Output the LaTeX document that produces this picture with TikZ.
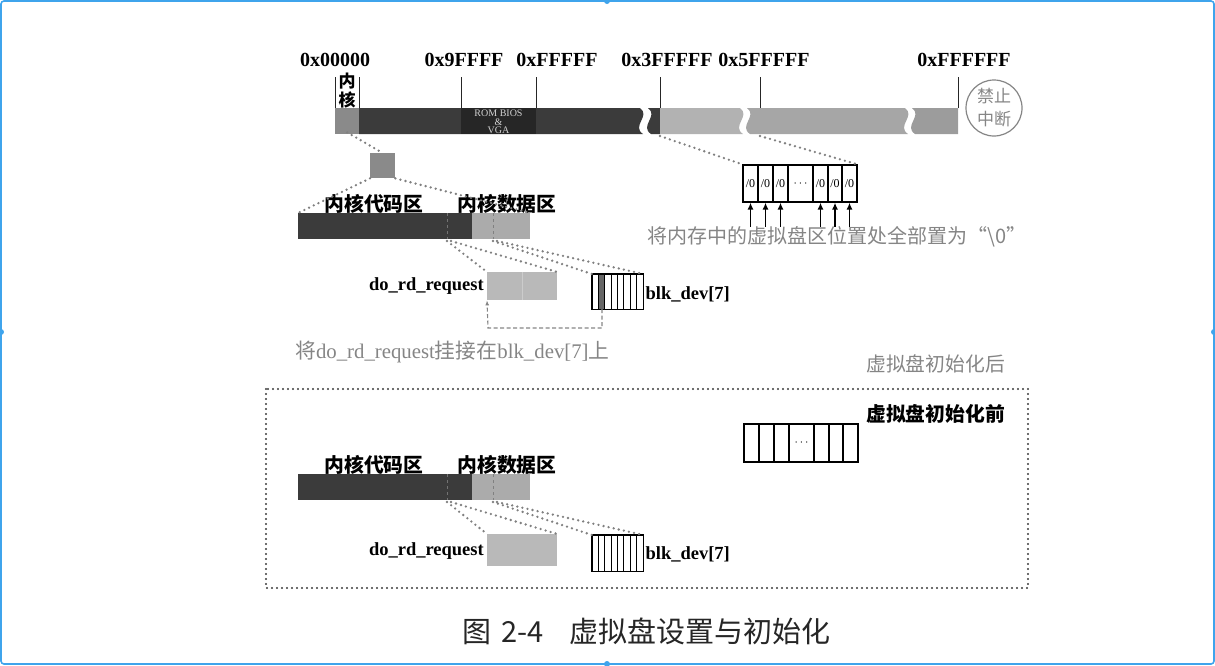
\documentclass[tikz,border=0pt]{standalone}
\usepackage{fontspec}
\setmainfont{Liberation Serif}
\newfontfamily\cjk{Noto Sans CJK SC}
\usetikzlibrary{arrows.meta,calc}
\definecolor{darkbar}{HTML}{3B3B3B}
\definecolor{rombar}{HTML}{262626}
\definecolor{kerngray}{HTML}{8A8A8A}
\definecolor{lightA}{HTML}{B2B2B2}
\definecolor{lightB}{HTML}{A6A6A6}
\definecolor{lightC}{HTML}{9C9C9C}
\definecolor{datagray}{HTML}{ABABAB}
\definecolor{reqgray}{HTML}{B9B9B9}
\definecolor{txtgray}{HTML}{858585}
\definecolor{dotgray}{HTML}{808080}
\definecolor{framedots}{HTML}{3A3A3A}
\definecolor{shotblue}{HTML}{3FA4EC}
\newcommand{\zr}{/0}
\begin{document}
\begin{tikzpicture}[x=1pt,y=-1pt,
  hexl/.style={font=\fontsize{20}{22}\selectfont\bfseries, inner sep=0},
  cjkb/.style={font=\cjk\fontsize{19.8}{21}\selectfont\bfseries, inner sep=0},
  cjkg/.style={font=\cjk\fontsize{19.8}{21}\selectfont, text=txtgray, inner sep=0},
  lbl/.style={font=\fontsize{18.5}{20}\selectfont\bfseries, inner sep=0},
  blockbox/.style={inner sep=0, draw=none, anchor=north west},
  cell/.style={draw, line width=1.2pt, inner sep=0, minimum height=37pt, font=\fontsize{12}{14}\selectfont},
  dots/.style={draw=dotgray, line width=2.6pt, dash pattern=on 0pt off 5.2pt, line cap=round},
  tick/.style={draw=black!85, line width=0.9pt},
  uparrow/.style={draw, line width=1.8pt, -{Latex[length=7pt,width=6pt]}},
  linkline/.style={draw=txtgray, line width=1.1pt, dash pattern=on 4pt off 2.5pt}
]
\useasboundingbox (0,0) rectangle (1215,665);
% screenshot frame
\draw[shotblue, line width=1.6pt, rounded corners=3pt] (1,1) rectangle (1214,664);
\foreach \p in {(607,1),(1,332),(1214,332),(607,664)} \fill[shotblue] \p circle (3pt);

% ---------- memory bar ----------
\node[hexl] (h0) at (335,60) {0x00000};
\node[hexl] (h1) at (464,60) {0x9FFFF};
\node[hexl] (h2) at (557,60) {0xFFFFF};
\node[hexl] (h3) at (667,60) {0x3FFFFF};
\node[hexl] (h4) at (764,60) {0x5FFFFF};
\node[hexl] (h5) at (964,60) {0xFFFFFF};
\node[font=\cjk\fontsize{17}{19}\selectfont\bfseries, inner sep=0] (nei) at (347,81) {内};
\node[font=\cjk\fontsize{17}{19}\selectfont\bfseries, inner sep=0] (he) at (347,100) {核};

\node[blockbox, fill=kerngray, minimum width=24pt, minimum height=26pt] (kblk) at (335,108) {};
\fill[darkbar] (359,108) -- (640,108) .. controls (651,116) and (631,126) .. (643,134) -- (359,134) -- cycle;
\fill[darkbar] (648,108) .. controls (659,116) and (639,126) .. (651,134) -- (660,134) -- (660,108) -- cycle;
\node[blockbox, fill=rombar, minimum width=75pt, minimum height=26pt] (rom) at (461,108) {};
\begin{scope}
\clip (461,108) rectangle (536,134);
\node[font=\fontsize{10}{8.5}\selectfont, text=black!18, align=center, inner sep=0] (romtxt) at (498.5,122) {ROM BIOS\\\&\\VGA};
\end{scope}
\fill[lightA] (660,108) -- (740,108) .. controls (751,116) and (731,126) .. (743,134) -- (660,134) -- cycle;
\fill[lightB] (747,108) .. controls (758,116) and (738,126) .. (750,134) -- (908,134) .. controls (896,126) and (916,116) .. (905,108) -- cycle;
\fill[lightC] (912,108) .. controls (923,116) and (903,126) .. (915,134) -- (958,134) -- (958,108) -- cycle;
\coordinate (m3) at (660,136);
\coordinate (m5) at (760,136);

\draw[tick] (335,77) -- (335,108);
\draw[tick] (359,77) -- (359,108);
\draw[tick] (461,77) -- (461,108);
\draw[tick] (536,77) -- (536,108);
\draw[tick] (660,77) -- (660,108);
\draw[tick] (760,77) -- (760,108);
\draw[tick] (958,77) -- (958,108);

\node[circle, draw=txtgray, line width=1.2pt, minimum size=56pt, inner sep=0] (cli) at (994,108) {};
\node[font=\cjk\fontsize{17}{23}\selectfont, text=txtgray, align=center, inner sep=0] (clitxt) at (cli.center) {禁止\\中断};

% ---------- kernel zoom ----------
\node[blockbox, fill=kerngray, minimum width=25pt, minimum height=25pt] (ksq) at (370,153) {};
\draw[dots] ([yshift=2pt]kblk.south) -- (ksq.north);

\node[cjkb] (codelbl) at (374,204) {内核代码区};
\node[cjkb] (datalbl) at (507,204) {内核数据区};
\node[blockbox, fill=darkbar, minimum width=174pt, minimum height=26pt] (code) at (298,213) {};
\node[blockbox, fill=datagray, minimum width=58pt, minimum height=26pt] (data) at (472,213) {};
\draw[black!55, line width=0.8pt, dashed] (447,213) -- (447,239);
\draw[black!50, line width=0.8pt, dashed] (493,213) -- (493,239);
\draw[dots] (ksq.south west) -- (code.north west);
\draw[dots] (ksq.south east) -- (data.north east);

\node[blockbox, fill=reqgray, minimum width=70pt, minimum height=28pt] (req) at (487,272) {};
\draw[black!20, line width=0.6pt] (522,272) -- (522,300);
\node[lbl, anchor=east] (reqlbl) at ([xshift=-3pt]req.west) {do\_rd\_request};

\node[blockbox, minimum width=51pt, minimum height=35pt] (blk) at (592,274) {};
\fill[black!60] (598.4,274) rectangle (604.75,309);
\foreach \k in {1,...,7} \draw[line width=0.9pt] ({592+\k*6.375},274) -- ({592+\k*6.375},309);
\draw[line width=1.1pt] (blk.north west) rectangle (blk.south east);
\node[lbl, anchor=west] (blklbl) at ([xshift=2pt,yshift=-3pt]blk.east) {blk\_dev[7]};

\coordinate (c1) at (447,241);
\coordinate (c2) at (451,241);
\coordinate (c3) at (493,241);
\coordinate (c4) at (497,241);
\draw[dots] (c1) -- (req.north west);
\draw[dots] (c2) -- (req.north east);
\draw[dots] (c3) -- (blk.north west);
\draw[dots] (c4) -- (blk.north east);

\coordinate (lk1) at (602,309);
\draw[linkline, -{Latex[length=5pt,width=4pt]}] (lk1) -- (602,328) -- (488,328) -- (req.south west);
\node[anchor=west, inner sep=0, text=txtgray, font=\fontsize{20.8}{22}\selectfont] (linktxt) at (295,352)
  {{\cjk 将}do\_rd\_request{\cjk 挂接在}blk\_dev[7]{\cjk 上}};

% ---------- zeroed array ----------
\node[cell, minimum width=15pt] (u1) at (750.5,183.5) {\zr};
\node[cell, minimum width=15pt] (u2) at (765.5,183.5) {\zr};
\node[cell, minimum width=15pt] (u3) at (780.5,183.5) {\zr};
\node[cell, minimum width=25pt] (u4) at (800.5,183.5) {$\cdots$};
\node[cell, minimum width=15pt] (u5) at (820.5,183.5) {\zr};
\node[cell, minimum width=14pt] (u6) at (835,183.5) {\zr};
\node[cell, minimum width=15pt] (u7) at (849.5,183.5) {\zr};
\draw[dots] (m3) -- (u1.north west);
\draw[dots] (m5) -- (u7.north east);
\foreach \c in {u1,u2,u3,u5,u6,u7} {
  \coordinate (a\c) at ($(\c.south)+(0,24)$);
  \draw[uparrow] (a\c) -- (\c.south);
}
\node[cjkg, anchor=west, font=\cjk\fontsize{20}{22}\selectfont] (zerotxt) at (647,237) {将内存中的虚拟盘区位置处全部置为“\textbackslash 0”};

% ---------- before-init panel ----------
\node[cjkg, anchor=east] (aftertxt) at (1005,364) {虚拟盘初始化后};
\draw[draw=framedots, line width=2.4pt, dash pattern=on 0pt off 5pt, line cap=round] (266,389) rectangle (1028,588);
\node[cjkb, anchor=east] (beforetxt) at (1005,414) {虚拟盘初始化前};

\node[cell, minimum width=15pt, minimum height=38pt] (e1) at (751.5,443) {};
\node[cell, minimum width=15pt, minimum height=38pt] (e2) at (766.5,443) {};
\node[cell, minimum width=15pt, minimum height=38pt] (e3) at (781.5,443) {};
\node[cell, minimum width=25pt, minimum height=38pt] (e4) at (801.5,443) {$\cdots$};
\node[cell, minimum width=15pt, minimum height=38pt] (e5) at (821.5,443) {};
\node[cell, minimum width=14pt, minimum height=38pt] (e6) at (836,443) {};
\node[cell, minimum width=15pt, minimum height=38pt] (e7) at (850.5,443) {};

\node[cjkb] (codelbl2) at (374,465) {内核代码区};
\node[cjkb] (datalbl2) at (507,465) {内核数据区};
\node[blockbox, fill=darkbar, minimum width=174pt, minimum height=26pt] (code2) at (298,474) {};
\node[blockbox, fill=datagray, minimum width=58pt, minimum height=26pt] (data2) at (472,474) {};
\draw[black!55, line width=0.8pt, dashed] (447,474) -- (447,500);
\draw[black!50, line width=0.8pt, dashed] (493,474) -- (493,500);

\node[blockbox, fill=reqgray, minimum width=70pt, minimum height=32pt] (req2) at (487,534) {};
\node[lbl, anchor=east] (reqlbl2) at ([xshift=-3pt,yshift=-1pt]req2.west) {do\_rd\_request};
\node[blockbox, minimum width=51pt, minimum height=36pt] (blk2) at (592,535) {};
\foreach \k in {1,...,7} \draw[line width=0.9pt] ({592+\k*6.375},535) -- ({592+\k*6.375},571);
\draw[line width=1.1pt] (blk2.north west) rectangle (blk2.south east);
\node[lbl, anchor=west] (blklbl2) at ([xshift=2pt,yshift=-1pt]blk2.east) {blk\_dev[7]};

\coordinate (d1) at (447,502);
\coordinate (d2) at (451,502);
\coordinate (d3) at (493,502);
\coordinate (d4) at (497,502);
\draw[dots] (d1) -- (req2.north west);
\draw[dots] (d2) -- (req2.north east);
\draw[dots] (d3) -- (blk2.north west);
\draw[dots] (d4) -- (blk2.north east);

% ---------- caption ----------
\node[anchor=west, inner sep=0, text=black!85, font=\cjk\fontsize{29}{32}\selectfont] (cap) at (462,631)
  {图\hspace{10pt}2-4\hspace{26pt}虚拟盘设置与初始化};
\end{tikzpicture}
\end{document}
